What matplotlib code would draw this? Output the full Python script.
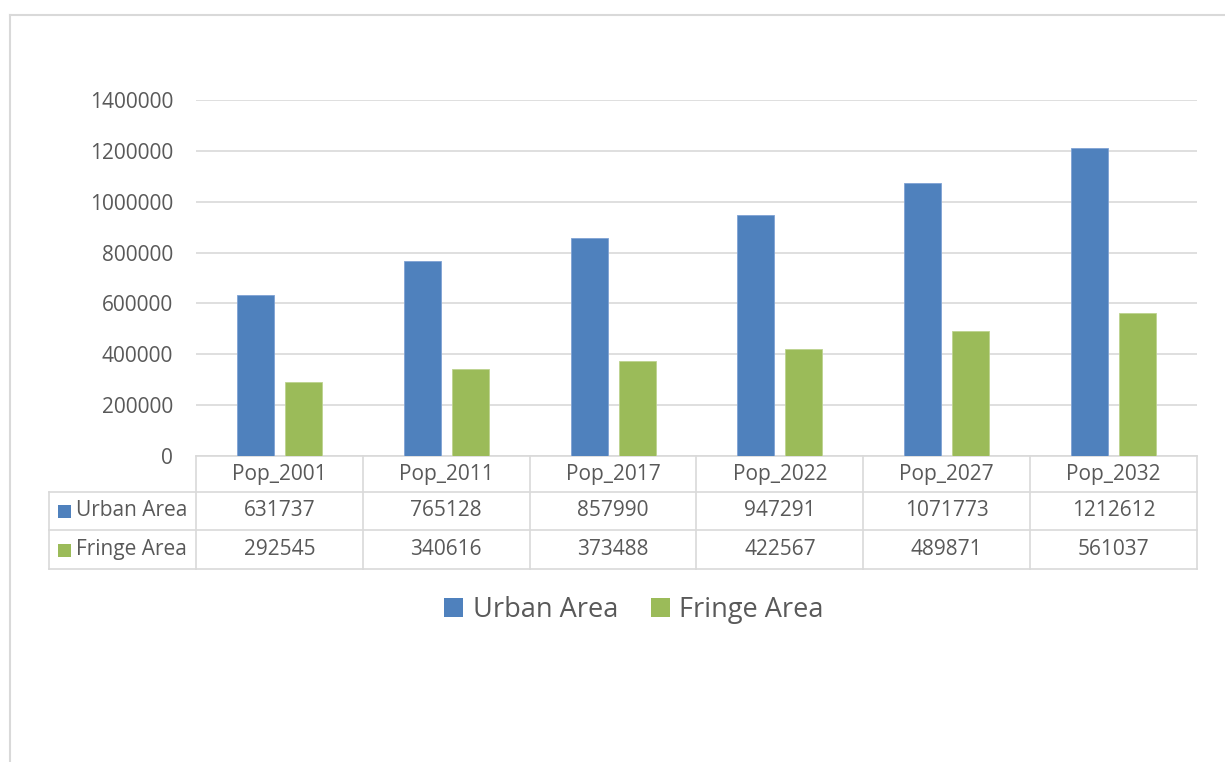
import numpy as np
import matplotlib.pyplot as plt
from matplotlib.lines import Line2D
from matplotlib.patches import Rectangle
import matplotlib.transforms as mtransforms

# chart data
categories = ["Pop_2001", "Pop_2011", "Pop_2017", "Pop_2022", "Pop_2027", "Pop_2032"]
urban = [631737, 765128, 857990, 947291, 1071773, 1212612]
fringe = [292545, 340616, 373488, 422567, 489871, 561037]
series_names = ["Urban Area", "Fringe Area"]
colors = ["#4f81bd", "#9bbb59"]
yticks = [0, 200000, 400000, 600000, 800000, 1000000, 1200000, 1400000]

plt.rcParams['font.family'] = ['Open Sans', 'DejaVu Sans']
text_col = "#595959"
line_col = "#d9d9d9"
fs = 15

W, H = 1225, 762
fig = plt.figure(figsize=(W / 100, H / 100), dpi=100)
ax = fig.add_axes([196 / W, 1 - 456 / H, (1197 - 196) / W, (456 - 100) / H])

x = np.arange(len(categories))
bw = 0.222
off = 0.144
ax.bar(x - off, urban, bw, color=colors[0], edgecolor="#7fa2d4", linewidth=0.6, zorder=3)
ax.bar(x + off, fringe, bw, color=colors[1], edgecolor="#bdd38f", linewidth=0.6, zorder=3)

ax.set_xlim(-0.5, len(categories) - 0.5)
ax.set_ylim(0, 1400000)
ax.set_yticks(yticks)
ax.set_yticklabels([str(v) for v in yticks])
ax.tick_params(axis='y', length=0, pad=16.5, labelsize=fs, labelcolor=text_col)
ax.set_xticks([])
ax.grid(axis='y', color=line_col, linewidth=1.2, zorder=0)
for s in ["top", "right", "left"]:
    ax.spines[s].set_visible(False)
ax.spines["bottom"].set_color(line_col)
ax.spines["bottom"].set_linewidth(1.2)

# data table below the axis
trans = mtransforms.blended_transform_factory(ax.transData, ax.transAxes)
px = 1 / 356.0  # pixels -> axes fraction (vertical)
row_y = [0, -36 * px, -74 * px, -113 * px]
left_x = -0.5 - (196 - 49) / ((1197 - 196) / len(categories))

def hline(x0, x1, y):
    ax.add_line(Line2D([x0, x1], [y, y], transform=trans, color=line_col,
                       linewidth=1.2, clip_on=False))

def vline(xx, y0, y1):
    ax.add_line(Line2D([xx, xx], [y0, y1], transform=trans, color=line_col,
                       linewidth=1.2, clip_on=False))

hline(left_x, len(categories) - 0.5, row_y[1])
hline(left_x, len(categories) - 0.5, row_y[2])
hline(left_x, len(categories) - 0.5, row_y[3])
for b in np.arange(len(categories) + 1) - 0.5:
    vline(b, row_y[0], row_y[3])
vline(left_x, row_y[1], row_y[3])

for i, c in enumerate(categories):
    ax.text(i, (row_y[0] + row_y[1]) / 2, c, transform=trans, ha='center', va='center',
            fontsize=fs, color=text_col)
    ax.text(i, (row_y[1] + row_y[2]) / 2, str(urban[i]), transform=trans, ha='center',
            va='center', fontsize=fs, color=text_col)
    ax.text(i, (row_y[2] + row_y[3]) / 2, str(fringe[i]), transform=trans, ha='center',
            va='center', fontsize=fs, color=text_col)

for k, name in enumerate(series_names):
    yc = 1 - (511 + 38.5 * k) / H
    fig.patches.append(Rectangle((58 / W, yc - 7 / H), 13 / W, 13 / H, transform=fig.transFigure,
                                 facecolor=colors[k], edgecolor='none'))
    fig.text(76 / W, yc, name, ha='left', va='center', fontsize=fs, color=text_col)

# legend
handles = [Rectangle((0, 0), 1, 1, facecolor=c, edgecolor='none') for c in colors]
fig.legend(handles, series_names, loc='center', bbox_to_anchor=(634 / W, 1 - 610 / H),
           ncol=2, frameon=False, fontsize=19.5, labelcolor=text_col,
           handlelength=0.7, handleheight=0.7, handletextpad=0.35, columnspacing=1.2)

# outer chart border (partly cropped)
fig.add_artist(Line2D([10 / W, 1.0], [1 - 15 / H, 1 - 15 / H], transform=fig.transFigure,
                      color=line_col, linewidth=1.5))
fig.add_artist(Line2D([10 / W, 10 / W], [1 - 15 / H, 0], transform=fig.transFigure,
                      color=line_col, linewidth=1.5))

fig.savefig("out.png", dpi=100)
